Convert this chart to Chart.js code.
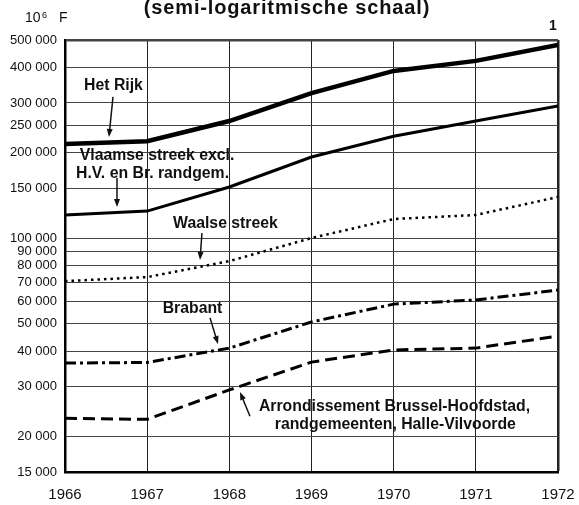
<!DOCTYPE html>
<html>
<head>
<meta charset="utf-8">
<script src="https://cdn.jsdelivr.net/npm/chart.js@4.4.1/dist/chart.umd.min.js"></script>
<style>
  html, body { margin: 0; padding: 0; background: #fff; }
  canvas { display: block; }
</style>
</head>
<body>
<canvas id="c" width="579" height="505"></canvas>
<script>
// --- data (10^6 F, semi-log) ---
const years = [1966, 1967, 1968, 1969, 1970, 1971, 1972];
const hetRijk   = [215000, 220000, 259000, 325000, 389000, 422000, 480000];
const vlaamse   = [120800, 124700, 151600, 193400, 229000, 259000, 292500];
const waalse    = [70600, 73000, 83100, 100200, 116900, 120800, 139800];
const brabant   = [36300, 36500, 41000, 50700, 58600, 60600, 65700];
const arrond    = [23200, 23000, 29200, 36600, 40400, 41000, 45200];
const yTicks = [15000, 20000, 30000, 40000, 50000, 60000, 70000, 80000, 90000, 100000,
                150000, 200000, 250000, 300000, 400000, 500000];

// labels in data coords (year, value)
const labels = [
  { text: "Het Rijk", x: 1966.59, y: 344000 },
  { text: "Vlaamse streek excl.", x: 1967.12, y: 195000 },
  { text: "H.V. en Br. randgem.", x: 1967.065, y: 168500 },
  { text: "Waalse streek", x: 1967.953, y: 112200 },
  { text: "Brabant", x: 1967.552, y: 56300 },
  { text: "Arrondissement Brussel-Hoofdstad,", x: 1970.01, y: 25400 },
  { text: "randgemeenten, Halle-Vilvoorde", x: 1970.02, y: 22100 }
];
const arrows = [
  { x0: 1966.584, y0: 315000, x1: 1966.535, y1: 227500 },
  { x0: 1966.633, y0: 163100, x1: 1966.633, y1: 128800 },
  { x0: 1967.667, y0: 104300, x1: 1967.643, y1: 83800 },
  { x0: 1967.765, y0: 52400, x1: 1967.862, y1: 42400 },
  { x0: 1968.251, y0: 23600, x1: 1968.13, y1: 28700 }
];

const pts = (arr) => years.map((y, i) => ({ x: y, y: arr[i] }));
const fmt = (v) => String(v).replace(/\B(?=(\d{3})+(?!\d))/g, " ");
const FONT = "'Liberation Sans', Arial, Helvetica, sans-serif";

const annotate = {
  id: "annotate",
  afterDatasetsDraw(chart) {
    const { ctx, scales: { x, y } } = chart;
    ctx.save();
    ctx.fillStyle = "#111";
    ctx.textAlign = "center";
    ctx.textBaseline = "middle";
    ctx.font = "bold 15.8px " + FONT;
    labels.forEach(l => ctx.fillText(l.text, x.getPixelForValue(l.x), y.getPixelForValue(l.y)));

    ctx.strokeStyle = "#111";
    ctx.lineWidth = 1.5;
    arrows.forEach(a => {
      const px0 = x.getPixelForValue(a.x0), py0 = y.getPixelForValue(a.y0);
      const px1 = x.getPixelForValue(a.x1), py1 = y.getPixelForValue(a.y1);
      const ang = Math.atan2(py1 - py0, px1 - px0);
      ctx.beginPath();
      ctx.moveTo(px0, py0);
      ctx.lineTo(px1 - 4 * Math.cos(ang), py1 - 4 * Math.sin(ang));
      ctx.stroke();
      ctx.beginPath();
      ctx.moveTo(px1, py1);
      ctx.lineTo(px1 - 8 * Math.cos(ang) + 3 * Math.sin(ang), py1 - 8 * Math.sin(ang) - 3 * Math.cos(ang));
      ctx.lineTo(px1 - 8 * Math.cos(ang) - 3 * Math.sin(ang), py1 - 8 * Math.sin(ang) + 3 * Math.cos(ang));
      ctx.closePath();
      ctx.fill();
    });

    // title (cut at the top edge), unit, page number
    ctx.textAlign = "center";
    ctx.textBaseline = "alphabetic";
    ctx.font = "bold 20px " + FONT;
    ctx.letterSpacing = "0.85px";
    ctx.fillText("(semi-logaritmische schaal)", 287, 14);
    ctx.letterSpacing = "0px";
    ctx.textAlign = "left";
    ctx.font = "14px " + FONT;
    ctx.fillText("10", 25, 22);
    ctx.font = "9px " + FONT;
    ctx.fillText("6", 42, 18);
    ctx.font = "14px " + FONT;
    ctx.fillText("F", 59, 22);
    ctx.textAlign = "center";
    ctx.font = "bold 14px " + FONT;
    ctx.fillText("1", 553, 30);
    ctx.restore();
  }
};

new Chart(document.getElementById("c"), {
  type: "line",
  data: {
    datasets: [
      { label: "Het Rijk", data: pts(hetRijk), borderColor: "#000", borderWidth: 4.5 },
      { label: "Vlaamse streek", data: pts(vlaamse), borderColor: "#000", borderWidth: 3 },
      { label: "Waalse streek", data: pts(waalse), borderColor: "#000", borderWidth: 2.5, borderDash: [2.5, 4] },
      { label: "Brabant", data: pts(brabant), borderColor: "#000", borderWidth: 3, borderDash: [11, 4, 3, 4] },
      { label: "Arrondissement", data: pts(arrond), borderColor: "#000", borderWidth: 3, borderDash: [12, 6] }
    ]
  },
  options: {
    responsive: false,
    animation: false,
    events: [],
    elements: { point: { radius: 0 }, line: { tension: 0 } },
    layout: { padding: { top: 40, right: 0, left: 0, bottom: 0 } },
    plugins: { legend: { display: false }, tooltip: { enabled: false } },
    scales: {
      x: {
        type: "linear",
        min: 1966,
        max: 1972,
        afterFit: (s) => { s.height = 33; s.paddingRight = 21; },
        ticks: { stepSize: 1, callback: (v) => String(v), color: "#111", padding: 14,
                 font: { family: FONT, size: 15 }, maxRotation: 0 },
        grid: { color: "#222", drawTicks: false,
                lineWidth: (c) => (c.tick && c.tick.value === 1972 ? 2.5 : 1) },
        border: { display: true, color: "#000", width: 2.5 }
      },
      y: {
        type: "logarithmic",
        min: 15000,
        max: 500000,
        afterFit: (s) => { s.width = 65; },
        afterBuildTicks: (s) => { s.ticks = yTicks.map(v => ({ value: v })); },
        ticks: { autoSkip: false, callback: (v) => fmt(v), color: "#111", padding: 8,
                 font: { family: FONT, size: 13 } },
        grid: { color: "#444", drawTicks: false,
                lineWidth: (c) => (c.tick && c.tick.value === 500000 ? 2.5 : 1) },
        border: { display: true, color: "#000", width: 2.5 }
      }
    }
  },
  plugins: [annotate]
});
</script>
</body>
</html>
